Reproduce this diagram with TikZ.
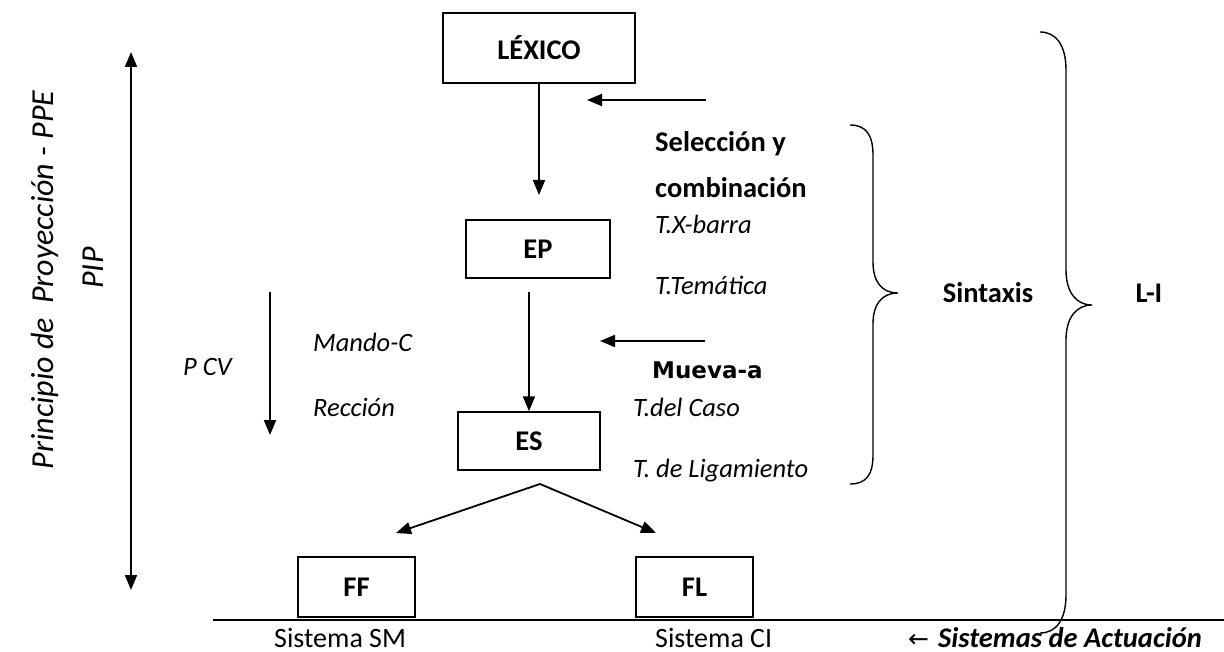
\documentclass[tikz,border=0pt]{standalone}
\usepackage{fontspec}
\setmainfont{Carlito}
\newfontfamily\dvs{DejaVu Sans}
\usetikzlibrary{arrows.meta,calc}
\begin{document}
\begin{tikzpicture}[x=1pt,y=-1pt,
  box/.style={draw, line width=1.4pt, inner sep=0pt, font=\fontsize{28.5}{34}\selectfont\bfseries},
  arr/.style={line width=1.8pt, -{Triangle[length=15pt,width=12pt]}},
  darr/.style={line width=1.8pt, {Triangle[length=15pt,width=12pt]}-{Triangle[length=15pt,width=12pt]}},
  ln/.style={line width=1.8pt},
  brace/.style={line width=1.4pt},
  lbl/.style={anchor=base west, inner sep=0pt},
  bl/.style={lbl, font=\fontsize{28.5}{34}\selectfont\bfseries},
  il/.style={lbl, font=\fontsize{26.5}{32}\selectfont\itshape},
  rl/.style={lbl, font=\fontsize{28}{33}\selectfont},
  rot/.style={font=\fontsize{32}{38}\selectfont\itshape, rotate=90, inner sep=0pt},
  ]
\useasboundingbox (0,0) rectangle (1224,652);

% boxes
\node[box, minimum width=192, minimum height=70] (lex) at (539,48) {LÉXICO};
\node[box, minimum width=144, minimum height=58] (ep) at (538,249) {EP};
\node[box, minimum width=142, minimum height=58] (es) at (529,441) {ES};
\node[box, minimum width=117, minimum height=60] (ff) at (356.5,587) {FF};
\node[box, minimum width=117, minimum height=60] (fl) at (694.5,587) {FL};

% vertical arrows
\coordinate (a1) at (539,195);
\draw[arr] (lex.south) -- (a1);
\coordinate (a2) at (529,292);
\draw[arr] (a2) -- (es.north);

% horizontal arrows
\coordinate (h1s) at (706,100);
\coordinate (h1e) at (587,100);
\draw[arr] (h1s) -- (h1e);
\coordinate (h2s) at (705,341);
\coordinate (h2e) at (600,341);
\draw[arr] (h2s) -- (h2e);

% split from ES
\coordinate (apex) at (540,484);
\coordinate (tl) at (396,533);
\coordinate (tr) at (656,533);
\draw[arr] (apex) -- (tl);
\draw[arr] (apex) -- (tr);

% left arrows
\coordinate (pt) at (131,52);
\coordinate (pb) at (131,590);
\draw[darr] (pt) -- (pb);
\coordinate (ct) at (270,292);
\coordinate (cb) at (270,435);
\draw[arr] (ct) -- (cb);

% right labels
\node[bl] (sel) at (655,152) {Selección y};
\node[bl] (comb) at (655,198) {combinación};
\node[il] (txb) at (655,234) {T.X-barra};
\node[il] (ttem) at (655,295) {T.Temática};
\node[lbl, font=\fontsize{23}{28}\selectfont\dvs\bfseries] (mov) at (652,378) {Mueva-a};
\node[il] (tcaso) at (633,417) {T.del Caso};
\node[il] (tlig) at (633,477) {T. de Ligamiento};

% left labels
\node[il] (mando) at (313,352) {Mando-C};
\node[il] (recc) at (313,416) {Rección};
\node[il] (pcv) at (183,376) {P CV};
\node[rot] (ppe) at (45,280) {Principio de\ \ Proyección - PPE};
\node[rot] (pip) at (93,268) {PIP};

% braces
\draw[brace] (850,125) .. controls (866,125) and (873,135) .. (873,155) -- (873,262)
  .. controls (873,282) and (882,293) .. (898,293)
  .. controls (882,293) and (873,304) .. (873,324) -- (873,455)
  .. controls (873,475) and (866,484) .. (850,484);
\node[font=\fontsize{28.5}{34}\selectfont\bfseries, inner sep=0pt] (sint) at (988,293) {Sintaxis};

\draw[brace] (1040,32) .. controls (1056,32) and (1066,45) .. (1066,70) -- (1066,270)
  .. controls (1066,292) and (1076,305) .. (1092,305)
  .. controls (1076,305) and (1066,318) .. (1066,340) -- (1066,595)
  .. controls (1066,620) and (1056,633) .. (1040,633);
\node[font=\fontsize{28.5}{34}\selectfont\bfseries, inner sep=0pt] (li) at (1149,293) {L-I};

% bottom line and systems
\coordinate (lineL) at (213,620);
\coordinate (lineR) at (1224,620);
\draw[ln] (lineL) -- (lineR);
\node[rl] (ssm) at (274,647) {Sistema SM};
\node[rl] (sci) at (655,647) {Sistema CI};
\node[lbl, font=\fontsize{28.5}{34}\selectfont\bfseries\itshape] (act) at (908,647) {{\dvs\mdseries\upshape\fontsize{25}{30}\selectfont ←}\hspace{9pt}Sistemas de Actuación};
\end{tikzpicture}
\end{document}
